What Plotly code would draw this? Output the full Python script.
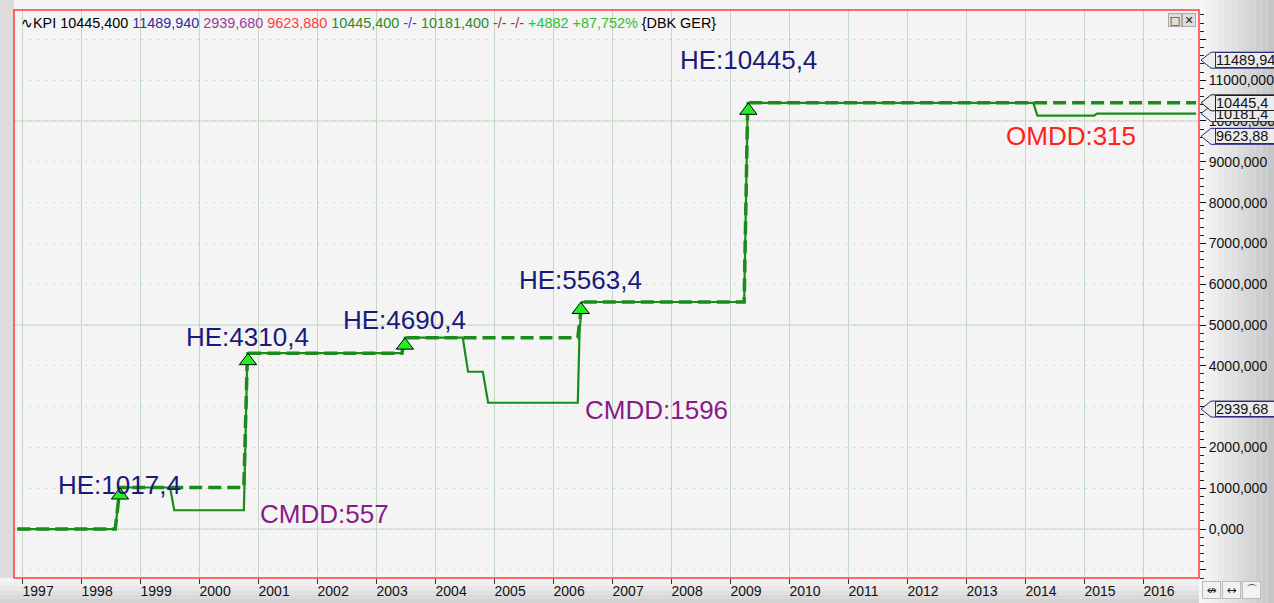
import plotly.graph_objects as go

# ---------------- data ----------------
years = list(range(1997, 2017))
year_labels = [str(y) for y in years]

y_ticks = [-1000, 0, 1000, 2000, 3000, 4000, 5000, 6000, 7000, 8000, 9000, 10000, 11000, 12000]
# 3000,000 is hidden behind the 2939,68 price tag in the reference
y_tick_labels = ["", "0,000", "1000,000", "2000,000", "", "4000,000", "5000,000",
                 "6000,000", "7000,000", "8000,000", "9000,000", "10000,000", "11000,000", ""]
solid_grid_levels = [0, 5000, 10000]

# equity curve (solid)
equity_x = [1996.92, 1998.58, 1998.66, 1999.51, 1999.58, 2000.76, 2000.82, 2003.44, 2003.49,
            2004.47, 2004.56, 2004.81, 2004.90, 2006.42, 2006.45, 2006.49, 2009.24, 2009.30,
            2014.14, 2014.21, 2015.17, 2015.22, 2016.90]
equity_y = [0, 0, 1017.4, 1017.4, 460, 460, 4310.4, 4310.4, 4690.4,
            4690.4, 3855, 3855, 3095, 3095, 4835, 5563.4, 5563.4, 10445.4,
            10445.4, 10130.4, 10130.4, 10181.4, 10181.4]

# highest equity (dashed)
peak_x = [1996.92, 1998.58, 1998.66, 2000.76, 2000.82, 2003.44, 2003.49, 2006.42, 2006.49,
          2009.24, 2009.30, 2016.90]
peak_y = [0, 0, 1017.4, 1017.4, 4310.4, 4310.4, 4690.4, 4690.4, 5563.4,
          5563.4, 10445.4, 10445.4]

# new highs
he_x = [1998.66, 2000.83, 2003.49, 2006.47, 2009.31]
he_y = [1017.4, 4310.4, 4690.4, 5563.4, 10445.4]
he_labels = ["HE:1017,4", "HE:4310,4", "HE:4690,4", "HE:5563,4", "HE:10445,4"]

# drawdowns
dd_x = [2000.76, 2006.42, 2014.69]
dd_y = [460, 3095, 10130.4]
dd_labels = ["CMDD:557", "CMDD:1596", "OMDD:315"]

# price tags on the right axis
tag_values = [11489.94, 10181.4, 10445.4, 9623.88, 2939.68]
tag_labels = ["11489,94", "10181,4", "10445,4", "9623,88", "2939,68"]

# ---------------- styles ----------------
GREEN = "#1a8c1a"
he_yshift = [3, 16, 18, 22, 43]
dd_style = [dict(xanchor="left", xshift=14, yshift=-4, color="#8a1a8a"),
            dict(xanchor="left", xshift=5, yshift=-7, color="#8a1a8a"),
            dict(xanchor="center", xshift=5, yshift=-20, color="#ff2020")]
tag_border = ["#2a2a80", "#2a2a80", "#202020", "#2a2a80", "#2a2a80"]
TRI_DROP = 190  # triangle sits just below the high level
FONT = "Liberation Sans"

fig = go.Figure()
fig.add_trace(go.Scatter(x=peak_x, y=peak_y, mode="lines",
                         line=dict(color=GREEN, width=3.5, dash="13px,6px"), hoverinfo="skip"))
fig.add_trace(go.Scatter(x=equity_x, y=equity_y, mode="lines",
                         line=dict(color=GREEN, width=2.2), hoverinfo="skip"))
fig.add_trace(go.Scatter(x=he_x, y=[v - TRI_DROP for v in he_y], mode="markers",
                         marker=dict(symbol="triangle-up", size=15, color="#22ee22",
                                     line=dict(color="#000", width=1)), hoverinfo="skip"))

L, R, T, B = 14, 75, 10, 25
W, H = 1274, 603
pw, ph = W - L - R, H - T - B

shapes = []
# right axis gradient background
n = 12
for i in range(n):
    c0 = 0xf6 - int((0xf6 - 0xc6) * i / (n - 1))
    shapes.append(dict(type="rect", xref="paper", yref="paper", layer="below",
                       x0=1 + (R / pw) * i / n, x1=1 + (R / pw) * (i + 1) / n,
                       y0=-B / ph, y1=1 + T / ph,
                       fillcolor=f"rgb({c0},{c0},{c0})", line=dict(width=0)))
# bottom bar gradient
m = 6
for i in range(m):
    c0 = 0xf4 - int((0xf4 - 0xd2) * i / (m - 1))
    shapes.append(dict(type="rect", xref="paper", yref="paper", layer="below",
                       x0=-L / pw, x1=1,
                       y0=-(B / ph) * (i + 1) / m, y1=-(B / ph) * i / m,
                       fillcolor=f"rgb({c0},{c0},{c0})", line=dict(width=0)))
# left strip
shapes.append(dict(type="rect", xref="paper", yref="paper", layer="below",
                   x0=-L / pw, x1=0, y0=0, y1=1 + T / ph,
                   fillcolor="#dcdcdc", line=dict(width=0)))
# solid grid lines
for lv in solid_grid_levels:
    shapes.append(dict(type="line", xref="paper", yref="y", layer="below",
                       x0=0, x1=1, y0=lv, y1=lv, line=dict(color="#c4d8c4", width=1)))
# price tag pointers
for v, bc in zip(tag_values, tag_border):
    shapes.append(dict(type="path", xref="paper", yref="y", xsizemode="pixel", ysizemode="pixel",
                       xanchor=1, yanchor=v, layer="above",
                       path="M 2,0 L 12,-8 L 90,-8 L 90,8 L 12,8 Z",
                       fillcolor="#ececec", line=dict(color=bc, width=1)))
# red frame
shapes.append(dict(type="rect", xref="paper", yref="paper", layer="above",
                   x0=0, x1=1, y0=0, y1=1, line=dict(color="#ff3a3a", width=1.5)))

annotations = []
header = ("<span style='color:#000'>∿KPI 10445,400</span> "
          "<span style='color:#2e2e9e'>11489,940</span> "
          "<span style='color:#9c3c9c'>2939,680</span> "
          "<span style='color:#ff3b3b'>9623,880</span> "
          "<span style='color:#2a8a2a'>10445,400</span> "
          "<span style='color:#3a3aff'>-/-</span> "
          "<span style='color:#2a8a2a'>10181,400</span> "
          "<span style='color:#a03030'>-/- -/-</span> "
          "<span style='color:#30c030'>+4882 +87,752%</span> "
          "<span style='color:#000'>{DBK GER}</span>")
annotations.append(dict(text=header, xref="paper", yref="paper", x=0, y=1, xshift=5, yshift=-3,
                        xanchor="left", yanchor="top", showarrow=False,
                        font=dict(family=FONT, size=14.4, color="#000")))
for x, y, t, s in zip(he_x, he_y, he_labels, he_yshift):
    annotations.append(dict(text=t, x=x, y=y, xref="x", yref="y", showarrow=False,
                            xanchor="center", yanchor="middle", yshift=s,
                            font=dict(family=FONT, size=26, color="#1a1a7a")))
for x, y, t, st in zip(dd_x, dd_y, dd_labels, dd_style):
    annotations.append(dict(text=t, x=x, y=y, xref="x", yref="y", showarrow=False,
                            xanchor=st["xanchor"], yanchor="middle", xshift=st["xshift"],
                            yshift=st["yshift"], font=dict(family=FONT, size=26, color=st["color"])))
for v, t, bc in zip(tag_values, tag_labels, tag_border):
    annotations.append(dict(text=t, x=1, y=v, xref="paper", yref="y", xanchor="left",
                            yanchor="middle", xshift=16, showarrow=False, width=70, height=14,
                            align="left", bgcolor="#ececec", bordercolor=bc, borderwidth=1,
                            borderpad=0,
                            font=dict(family=FONT, size=14.5, color="#111")))
# window buttons
for xs, sym in [(-24, "□"), (-10, "✕")]:
    annotations.append(dict(text=sym, x=1, y=1, xref="paper", yref="paper", xshift=xs, yshift=-10,
                            xanchor="center", yanchor="middle", showarrow=False,
                            bgcolor="#dedede", bordercolor="#aaa", borderwidth=1, borderpad=0,
                            width=12, height=12, font=dict(family="DejaVu Sans", size=11, color="#222")))
# bottom-right icons
for xs, sym in [(12, "↮"), (32, "↔"), (52, "⌒")]:
    annotations.append(dict(text=sym, x=1, y=0, xref="paper", yref="paper", xshift=xs, yshift=-12,
                            xanchor="center", yanchor="middle", showarrow=False,
                            bgcolor="#f2f2f2", bordercolor="#bbb", borderwidth=1, borderpad=0,
                            width=17, height=16, font=dict(family="DejaVu Sans", size=12, color="#222")))

fig.update_layout(
    width=W, height=H,
    margin=dict(l=L, r=R, t=T, b=B, autoexpand=False),
    paper_bgcolor="#f4f4f4", plot_bgcolor="#f4f4f4",
    showlegend=False,
    xaxis=dict(range=[1996.864, 2016.949], tickvals=years, ticktext=year_labels,
               showgrid=True, gridcolor="#c4d8c4", gridwidth=1,
               ticks="outside", ticklen=5, tickcolor="#333",
               ticklabelposition="outside right",
               tickfont=dict(family=FONT, size=14, color="#111"),
               zeroline=False, showline=False, fixedrange=True, automargin=False),
    yaxis=dict(side="right", range=[-1200, 12720], tickvals=y_ticks, ticktext=y_tick_labels,
               showgrid=True, gridcolor="#a8c4a8", griddash="1px,7px", gridwidth=1,
               ticks="outside", ticklen=6, tickcolor="#111",
               minor=dict(dtick=200, tick0=0, ticks="outside", ticklen=4, tickcolor="#222",
                          showgrid=False),
               tickfont=dict(family=FONT, size=14, color="#111"),
               zeroline=False, showline=False, fixedrange=True, automargin=False),
    shapes=shapes,
    annotations=annotations,
)

fig.write_html("out.html", config={"displayModeBar": False},
               post_script="document.body.style.margin='0';document.body.style.overflow='hidden';")
